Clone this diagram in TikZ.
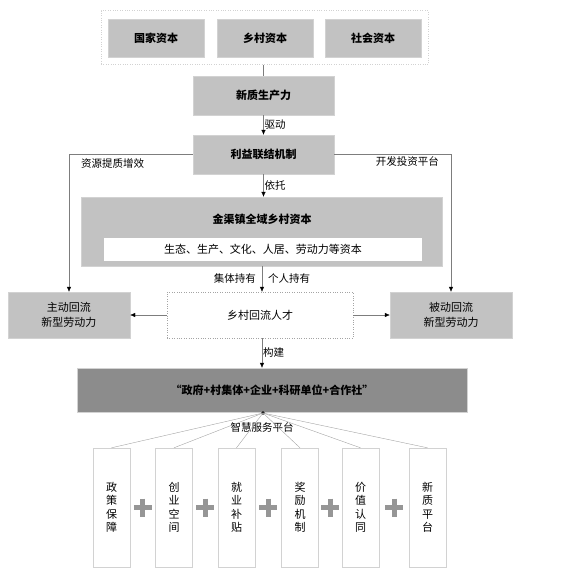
\documentclass[tikz,border=0pt]{standalone}
\usepackage{fontspec}
\setmainfont{Noto Sans CJK SC}
\usetikzlibrary{arrows.meta,positioning,calc}
\definecolor{boxgray}{RGB}{194,194,194}
\definecolor{deepgray}{RGB}{140,140,140}
\definecolor{linegray}{RGB}{125,125,125}
\definecolor{edgegray}{RGB}{210,210,210}
\definecolor{plusgray}{RGB}{150,150,150}

\begin{document}
\begin{tikzpicture}[x=1pt,y=-1pt,
        graybox/.style={
            draw=edgegray,
            fill=boxgray,
            minimum width=96pt,
            minimum height=38pt,
            font=\fontsize{11}{13}\selectfont\bfseries
        },
        flowbox/.style={
            graybox,
            minimum width=141pt,
            minimum height=39pt
        },
        sidebox/.style={
            draw=edgegray,
            fill=boxgray,
            minimum width=122pt,
            minimum height=46pt,
            align=center,
            font=\fontsize{11}{15}\selectfont
        },
        tallbox/.style={
            draw=edgegray,
            fill=white,
            minimum width=37pt,
            minimum height=119pt,
            align=center,
            text width=12pt,
            inner sep=0pt,
            font=\fontsize{11}{13.5}\selectfont
        },
        lbl/.style={font=\fontsize{10.5}{12}\selectfont, inner sep=1pt},
        arrow/.style={draw=linegray, -{Latex[length=5pt,width=4.5pt,color=black]}},
        link/.style={draw=linegray},
        plusmark/.style={draw=plusgray, line width=5pt}
    ]
    \useasboundingbox (0,0) rectangle (569,582);

    % Capital
    \node[draw=edgegray, dotted, minimum width=327pt, minimum height=54pt] (cap) at (264.5,37.5) {};
    \node[graybox] (gj) at (156,38) {国家资本};
    \node[graybox] (xc) at (265,38) {乡村资本};
    \node[graybox] (sh) at (373,38) {社会资本};

    % Main chain
    \node[flowbox] (xz) at (263.5,95.5) {新质生产力};
    \node[flowbox] (ly) at (263.5,154.5) {利益联结机制};
    \node[draw=edgegray, fill=boxgray, minimum width=361pt, minimum height=69pt] (jq) at (261.5,231.5) {};
    \node[font=\fontsize{11}{13}\selectfont\bfseries] (jqt) at (262,219) {金渠镇全域乡村资本};
    \node[fill=white, minimum width=318pt, minimum height=23pt, font=\fontsize{11}{13}\selectfont] (jqs) at (263,249.5) {生态、生产、文化、人居、劳动力等资本};
    \node[draw=linegray!70, dotted, fill=white, minimum width=186pt, minimum height=46pt, font=\fontsize{11}{13}\selectfont] (rc) at (260,315) {乡村回流人才};
    \node[sidebox] (zd) at (69,315) {主动回流\\新型劳动力};
    \node[sidebox] (bd) at (451,315) {被动回流\\新型劳动力};
    \node[draw=edgegray, fill=deepgray, minimum width=390pt, minimum height=44pt, font=\fontsize{11}{13}\selectfont\bfseries] (zf) at (272,390) {“政府+村集体+企业+科研单位+合作社”};

    % Arrows
    \draw[link] (cap.south -| xz.north) -- (xz.north);
    \draw[arrow] (xz.south) -- node[lbl, right] {驱动} (ly.north);
    \draw[arrow] (ly.south) -- node[lbl, right] {依托} (ly.south |- jq.north);
    \draw[arrow] (ly.west) -| (zd.north);
    \draw[arrow] (ly.east) -| (bd.north);
    \node[lbl, anchor=north west] (zy) at (80,157) {资源提质增效};
    \node[lbl, anchor=north east] (kf) at (440,155) {开发投资平台};
    \draw[arrow] (jq.south -| rc.north) ++(2,0) coordinate (jqout) -- (jqout |- rc.north);
    \node[lbl, anchor=east] (jt) at (257,278) {集体持有};
    \node[lbl, anchor=west] (gr) at (267,278) {个人持有};
    \draw[arrow] (rc.west) -- (zd.east);
    \draw[arrow] (rc.east) -- (bd.west);
    \draw[arrow] (rc.south) ++(2,0) coordinate (rcout) -- node[lbl, right] {构建} (rcout |- zf.north);

    % Platform
    \fill (263,413) circle (1.8pt) coordinate (hub);
    \node[lbl] (zh) at (262,427) {智慧服务平台};
    \foreach \name/\x/\txt in {b1/111.5/政\\策\\保\\障, b2/174/创\\业\\空\\间, b3/236.5/就\\业\\补\\贴,
                               b4/300/奖\\励\\机\\制, b5/360.5/价\\值\\认\\同, b6/427.5/新\\质\\平\\台} {
        \node[tallbox] (\name) at (\x,507.5) {\txt};
        \draw[link, draw=linegray!70] (hub) -- (\name.north);
    }
    \foreach \a/\b in {b1/b2, b2/b3, b3/b4, b4/b5, b5/b6} {
        \path ($(\a.east)!0.5!(\b.west)$) coordinate (pm);
        \draw[plusmark] ($(pm)+(-9,0)$) -- ($(pm)+(9,0)$);
        \draw[plusmark] ($(pm)+(0,-9)$) -- ($(pm)+(0,9)$);
    }

\end{tikzpicture}
\end{document}
